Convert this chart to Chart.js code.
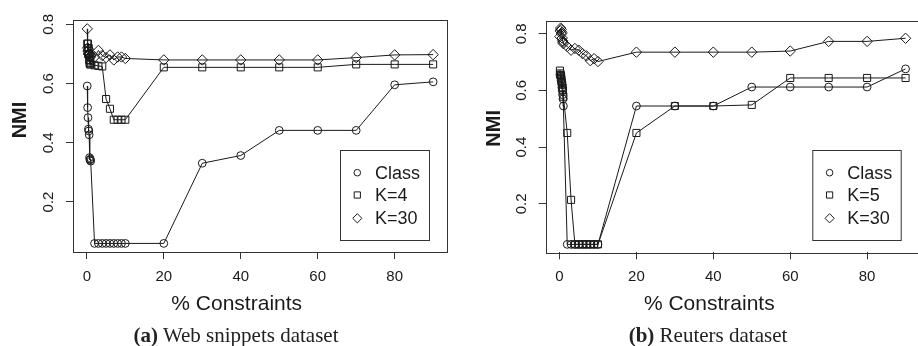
<!DOCTYPE html>
<html><head><meta charset="utf-8">
<script src="https://cdn.jsdelivr.net/npm/chart.js@4.4.1/dist/chart.umd.min.js"></script>
<style>
html,body{margin:0;padding:0;background:#fff;overflow:hidden;width:918px;height:346px;}
#wrap{position:relative;width:918px;height:346px;overflow:hidden;}
canvas{position:absolute;top:0;}
.cap{position:absolute;top:322px;font-family:"Liberation Serif","Times New Roman",serif;font-size:21px;color:#222;white-space:nowrap;transform:translateX(-50%);line-height:26px;}
</style></head><body>
<div id="wrap">
<canvas id="c1" width="459" height="346" style="left:0"></canvas>
<canvas id="c2" width="470" height="346" style="left:459px"></canvas>
<div class="cap" style="left:236px"><b>(a)</b> Web snippets dataset</div>
<div class="cap" style="left:708px"><b>(b)</b> Reuters dataset</div>
</div>
<script>
// ---- data ----
const xValues = [0.1,0.2,0.3,0.4,0.5,0.6,0.7,0.8,0.9,1.0, 2,3,4,5,6,7,8,9,10, 20,30,40,50,60,70,80,90];
const xTicks = [0,20,40,60,80];
const yTicks = [0.2,0.4,0.6,0.8];

const webClass = [0.592,0.519,0.485,0.446,0.44,0.427,0.35,0.342,0.345,0.338, 0.06,0.06,0.06,0.06,0.06,0.06,0.06,0.06,0.06, 0.06,0.331,0.357,0.442,0.442,0.442,0.596,0.606];
const webK4 = [0.735,0.71,0.735,0.70,0.72,0.68,0.67,0.665,0.675,0.665, 0.662,0.66,0.658,0.548,0.515,0.478,0.478,0.478,0.478, 0.655,0.655,0.655,0.655,0.655,0.665,0.665,0.665];
const webK30 = [0.785,0.72,0.71,0.70,0.715,0.70,0.69,0.70,0.69,0.695, 0.69,0.712,0.695,0.688,0.697,0.68,0.69,0.69,0.685, 0.68,0.68,0.68,0.68,0.68,0.688,0.697,0.698];

const reutClass = [0.655,0.65,0.645,0.635,0.625,0.61,0.60,0.585,0.57,0.545, 0.057,0.057,0.057,0.057,0.057,0.057,0.057,0.057,0.057, 0.545,0.545,0.545,0.612,0.612,0.612,0.612,0.676];
const reutK5 = [0.67,0.66,0.655,0.65,0.64,0.63,0.62,0.61,0.60,0.578, 0.45,0.214,0.057,0.057,0.057,0.057,0.057,0.057,0.057, 0.45,0.545,0.545,0.549,0.644,0.644,0.644,0.644];
const reutK30 = [0.79,0.81,0.82,0.815,0.80,0.805,0.785,0.775,0.77,0.765, 0.755,0.742,0.748,0.742,0.73,0.722,0.705,0.712,0.702, 0.735,0.735,0.735,0.735,0.739,0.773,0.773,0.784];

const legendA = ["Class","K=4","K=30"];
const legendB = ["Class","K=5","K=30"];
const xTitle = "% Constraints";
const yTitle = "NMI";

const SANS = '"Liberation Sans", Arial, Helvetica, sans-serif';
const INK = '#1a1a1a';
const FRAME = '#333';
const styles = [
  {pointStyle:'circle', r:3.9, lr:3.3},
  {pointStyle:'rect', r:5, lr:4.4},
  {pointStyle:'rectRot', r:5.2, lr:4.6}
];

function toPts(ys){ return xValues.map((x,i)=>({x:x, y:ys[i]})); }

function makeChart(id, series, labels, o){
  const decor = {
    id:'decor',
    afterDraw(chart){
      const ctx = chart.ctx, a = chart.chartArea, ys = chart.scales.y;
      ctx.save();
      // frame
      ctx.strokeStyle = FRAME; ctx.lineWidth = 1;
      ctx.strokeRect(Math.round(a.left)+0.5, Math.round(a.top)+0.5, Math.round(a.right-a.left), Math.round(a.bottom-a.top));
      // y tick labels (rotated, R style)
      ctx.fillStyle = INK;
      ctx.font = '15px ' + SANS;
      ctx.textAlign = 'center'; ctx.textBaseline = 'middle';
      ys.ticks.forEach(t=>{
        const py = ys.getPixelForValue(t.value);
        ctx.save(); ctx.translate(a.left - 24, py); ctx.rotate(-Math.PI/2);
        ctx.fillText(t.value.toFixed(1), 0, 0); ctx.restore();
      });
      // y title
      ctx.font = 'bold 20px ' + SANS;
      ctx.save(); ctx.translate(o.nmiX, o.nmiY); ctx.rotate(-Math.PI/2);
      ctx.fillText(yTitle, 0, 0); ctx.restore();
      // x title
      ctx.font = '21px ' + SANS;
      ctx.fillText(xTitle, o.xTitleX, 304);
      // legend
      const L = o.legend;
      ctx.strokeStyle = FRAME; ctx.lineWidth = 1;
      ctx.strokeRect(L.x+0.5, L.y+0.5, L.w, L.h);
      ctx.font = '18px ' + SANS; ctx.textAlign = 'left';
      const rows = [22.7, 45, 68.3];
      labels.forEach((lab,i)=>{
        const cy = L.y + rows[i], cx = L.x + 17.3;
        ctx.strokeStyle = INK; ctx.lineWidth = 1;
        ctx.beginPath();
        const r = styles[i].lr;
        if (i===0){ ctx.arc(cx,cy,r,0,Math.PI*2); }
        else if (i===1){ ctx.rect(cx-r*0.707, cy-r*0.707, r*1.414, r*1.414); }
        else { ctx.moveTo(cx-r,cy); ctx.lineTo(cx,cy-r); ctx.lineTo(cx+r,cy); ctx.lineTo(cx,cy+r); ctx.closePath(); }
        ctx.stroke();
        ctx.fillStyle = INK;
        ctx.fillText(lab, L.x + 35, cy+1);
      });
      ctx.restore();
    }
  };
  return new Chart(document.getElementById(id), {
    type:'line',
    data:{ datasets: series.map((ys,i)=>({
      label: labels[i], data: toPts(ys),
      borderColor: INK, borderWidth: 1, tension: 0, fill:false,
      pointStyle: styles[i].pointStyle, pointRadius: styles[i].r, pointHoverRadius: styles[i].r,
      pointBorderColor: INK, pointBackgroundColor: 'rgba(0,0,0,0)', pointBorderWidth: 1
    }))},
    options:{
      responsive:false, animation:false, events:[],
      layout:{ padding:{ left:0, right:o.padRight, top:o.padTop, bottom:0 } },
      plugins:{ legend:{display:false}, tooltip:{enabled:false}, title:{display:false} },
      scales:{
        x:{ type:'linear', min:-3.6, max:93.6,
            afterBuildTicks: s => { s.ticks = xTicks.map(v=>({value:v})); },
            afterFit: s => { s.height = 346 - o.bottom; },
            grid:{ drawOnChartArea:false, drawTicks:true, tickLength:7, color:FRAME, lineWidth:1 },
            border:{ display:false },
            ticks:{ font:{family:SANS, size:15}, color:INK, padding:9, maxRotation:0, autoSkip:false } },
        y:{ type:'linear', min:o.yMin, max:o.yMax,
            afterBuildTicks: s => { s.ticks = yTicks.map(v=>({value:v})); },
            afterFit: s => { s.width = o.yWidth; },
            grid:{ drawOnChartArea:false, drawTicks:true, tickLength:7, color:FRAME, lineWidth:1 },
            border:{ display:false },
            ticks:{ display:false } }
      }
    },
    plugins:[decor]
  });
}

makeChart('c1', [webClass, webK4, webK30], legendA, {
  yMin:0.031, yMax:0.815, yWidth:73, padRight:12, padTop:20, bottom:252,
  nmiX:20, nmiY:120, xTitleX:236.7,
  legend:{x:340, y:150, w:89, h:90}
});
makeChart('c2', [reutClass, reutK5, reutK30], legendB, {
  yMin:0.029, yMax:0.846, yWidth:86.7, padRight:9.6, padTop:20.7, bottom:252.3,
  nmiX:35.2, nmiY:128.3, xTitleX:250.3,
  legend:{x:353.3, y:150, w:88.4, h:90}
});
</script>
</body></html>
